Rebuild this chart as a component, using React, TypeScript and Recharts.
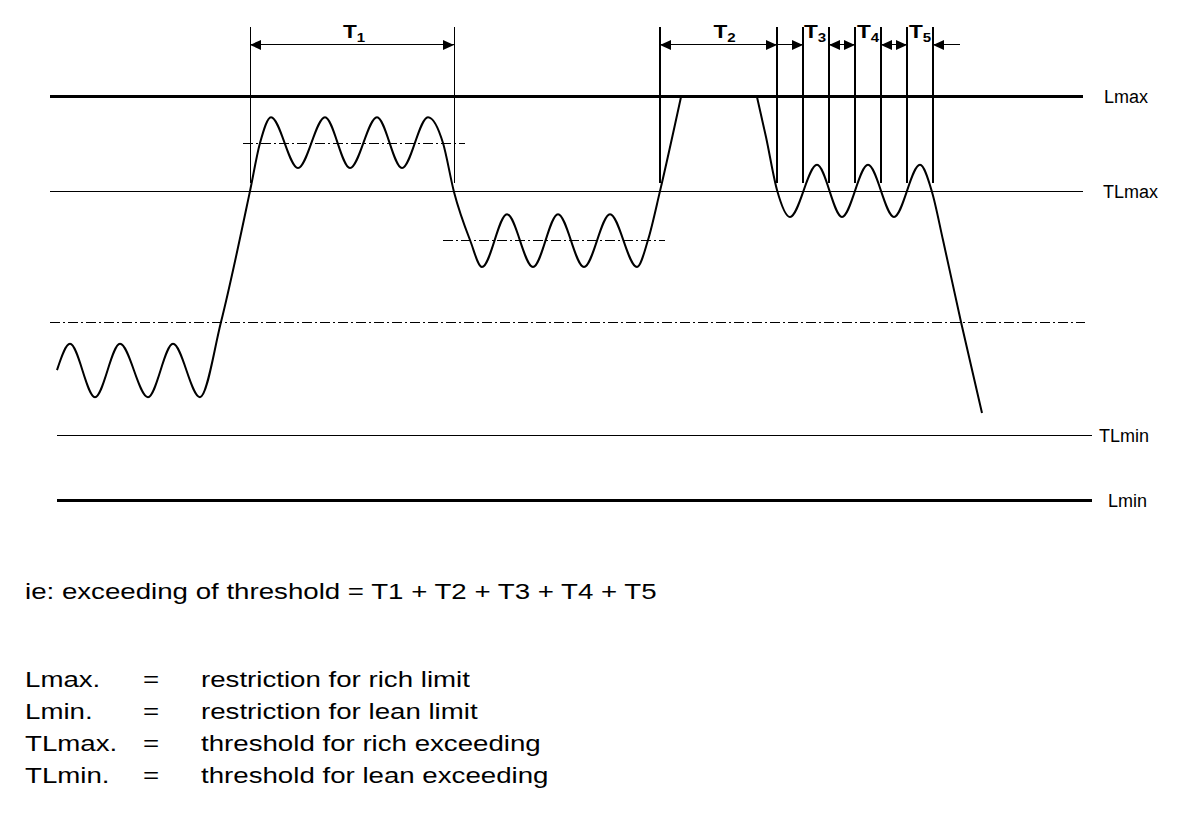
import { ComposedChart, Line, Scatter, XAxis, YAxis, ReferenceLine, ReferenceDot } from "recharts";

// levels (Lmin = 0, Lmax = 100)
const LMAX = 100;
const TLMAX = 76.7;
const MID = 44.3;
const TLMIN = 16.1;
const LMIN = 0;
const RICH_BAND = 88.6;
const LEAN_BAND = 64.6;

// probe signal (null = off the top of the scale)
const sigTime = [57, 70, 95, 120, 148, 173, 200, 221, 250, 260, 271, 298, 325, 350, 377, 402, 428, 443, 454, 470, 482, 507, 533, 558, 584, 610, 637, 648, 660, 681, 719, 757, 766, 777, 790, 817, 842, 868, 894, 920, 932, 943, 961, 982];
const sigLevel = [32.4, 38.9, 25.7, 38.9, 25.7, 38.9, 25.7, 44.3, 76.7, 88.6, 95.0, 82.4, 95.0, 82.4, 95.0, 82.4, 95.0, 88.6, 76.5, 64.6, 57.9, 71.0, 57.9, 71.0, 57.9, 71.0, 57.9, 64.6, 76.7, 100, null, 100, 90.1, 77.0, 70.3, 83.2, 70.3, 83.2, 70.3, 83.2, 76.5, 64.6, 44.3, 21.8];

// exceeding windows T1..T5
const windowNames = ["1", "2", "3", "4", "5"];
const windowStart = [250, 660, 803, 855, 907];
const windowEnd = [454, 777, 829, 881, 933];

const levelNames = ["Lmax", "TLmax", "TLmin", "Lmin"];
const levelValues = [LMAX, TLMAX, TLMIN, LMIN];

const signal = sigTime.map((t, i) => ({ t, v: sigLevel[i] }));

const DIM_TOP = 117.3;
const DIM_BOTTOM = 78.7;
const ARROW_Y = 112.9;
const LABEL_Y = 114.6;

const arrowLines: { x1: number; x2: number }[] = [];
const arrowHeads: { t: number; v: number; dir: number }[] = [];
windowStart.forEach((s, i) => {
  const e = windowEnd[i];
  if (e - s > 60) {
    arrowLines.push({ x1: s, x2: e });
    arrowHeads.push({ t: s, v: ARROW_Y, dir: -1 }, { t: e, v: ARROW_Y, dir: 1 });
  } else {
    arrowLines.push({ x1: s - 26, x2: s }, { x1: e, x2: e + 27 });
    arrowHeads.push({ t: s, v: ARROW_Y, dir: 1 }, { t: e, v: ARROW_Y, dir: -1 });
  }
});

const labelX = [1104, 1103, 1099, 1108];
const lineEnd = [1083, 1083, 1092, 1092];
const lineStart = [50, 50, 57, 57];
const lineWidth = [3, 1, 1, 3];
const tShift = [2, 6, -1, 0, 0];

const font = "'Liberation Sans', Arial, Helvetica, sans-serif";
const STRETCH = 1.257;

const Arrow = (props: any) => {
  const { cx, cy, payload } = props;
  const d = payload.dir;
  const pts = `${cx},${cy} ${cx - d * 11},${cy - 5} ${cx - d * 11},${cy + 5}`;
  return <polygon points={pts} fill="#000" />;
};

const legendRows = [
  ["Lmax.", "restriction for rich limit"],
  ["Lmin.", "restriction for lean limit"],
  ["TLmax.", "threshold for rich exceeding"],
  ["TLmin.", "threshold for lean exceeding"],
];

const wide = (left: number, text: string) => (
  <span style={{ position: "absolute", left, display: "inline-block", transform: `scaleX(${STRETCH})`, transformOrigin: "0 0" }}>{text}</span>
);

export default function App() {
  return (
    <div style={{ position: "absolute", left: 0, top: 0, width: 1200, height: 814, background: "#fff", fontFamily: font, color: "#000" }}>
      <ComposedChart width={1200} height={814} data={signal} margin={{ top: 0, right: 0, bottom: 0, left: 0 }}>
        <XAxis type="number" dataKey="t" domain={[0, 1200]} hide allowDataOverflow />
        <YAxis type="number" domain={[-77.48, 124.01]} hide allowDataOverflow />

        {levelValues.map((lv, i) => (
          <ReferenceLine key={"lv" + i} segment={[{ x: lineStart[i], y: lv }, { x: lineEnd[i], y: lv }]} stroke="#000" strokeWidth={lineWidth[i]} shapeRendering="crispEdges" />
        ))}
        <ReferenceLine segment={[{ x: 50, y: MID }, { x: 1085, y: MID }]} stroke="#000" strokeWidth={1} strokeDasharray="10 3 2 3" shapeRendering="crispEdges" />
        <ReferenceLine segment={[{ x: 243, y: RICH_BAND }, { x: 465, y: RICH_BAND }]} stroke="#000" strokeWidth={1} strokeDasharray="10 3 2 3" shapeRendering="crispEdges" />
        <ReferenceLine segment={[{ x: 443, y: LEAN_BAND }, { x: 665, y: LEAN_BAND }]} stroke="#000" strokeWidth={1} strokeDasharray="10 3 2 3" shapeRendering="crispEdges" />

        {windowStart.map((s, i) => [s, windowEnd[i]].map((x, j) => (
          <ReferenceLine key={`w${i}${j}`} segment={[{ x, y: DIM_TOP }, { x, y: DIM_BOTTOM }]} stroke="#000" strokeWidth={i === 0 ? 1 : 2} shapeRendering="crispEdges" />
        )))}
        {arrowLines.map((a, i) => (
          <ReferenceLine key={"al" + i} segment={[{ x: a.x1, y: ARROW_Y }, { x: a.x2, y: ARROW_Y }]} stroke="#000" strokeWidth={1} shapeRendering="crispEdges" />
        ))}

        <Line type="monotone" dataKey="v" stroke="#000" strokeWidth={2} dot={false} activeDot={false} connectNulls={false} isAnimationActive={false} />
        <Scatter data={arrowHeads} dataKey="v" shape={Arrow} isAnimationActive={false} />

        {windowNames.map((n, i) => (
          <ReferenceDot
            key={"tl" + i}
            x={(windowStart[i] + windowEnd[i]) / 2}
            y={LABEL_Y}
            r={0}
            fill="none"
            stroke="none"
            label={{
              content: (p: any) => (
                <text transform={`translate(${p.viewBox.x + tShift[i]},${p.viewBox.y}) scale(${STRETCH},1)`} textAnchor="middle" fontFamily={font} fontWeight="bold" fontSize={18} fill="#000">
                  T<tspan fontSize={12} dy={4}>{n}</tspan>
                </text>
              ),
            }}
          />
        ))}
        {levelNames.map((n, i) => (
          <ReferenceDot
            key={"ln" + i}
            x={labelX[i]}
            y={levelValues[i]}
            r={0}
            fill="none"
            stroke="none"
            label={{
              content: (p: any) => (
                <text x={p.viewBox.x} y={p.viewBox.y + 6.5} fontFamily={font} fontSize={18} fill="#000">
                  {n}
                </text>
              ),
            }}
          />
        ))}
      </ComposedChart>

      <div style={{ position: "absolute", left: 0, top: 581, width: 1200, fontSize: 22, lineHeight: "22px", whiteSpace: "nowrap" }}>
        {wide(25, "ie: exceeding of threshold = T1 + T2 + T3 + T4 + T5")}
      </div>
      {legendRows.map((r, i) => (
        <div key={i} style={{ position: "absolute", left: 0, top: 669 + i * 32, fontSize: 22, lineHeight: "22px", whiteSpace: "nowrap", width: 1200 }}>
          {wide(25, r[0])}
          {wide(143, "=")}
          {wide(201, r[1])}
        </div>
      ))}
    </div>
  );
}
